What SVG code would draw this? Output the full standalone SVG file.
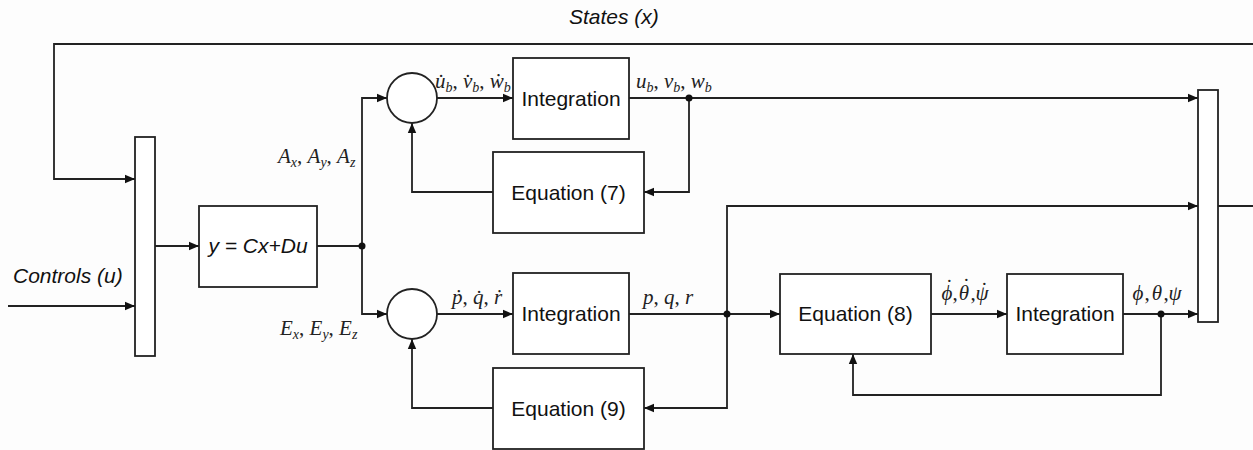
<svg xmlns="http://www.w3.org/2000/svg" width="1253" height="450" viewBox="0 0 1253 450">
  <style>
    .blk { fill: #fff; stroke: #222; stroke-width: 1.8; }
    .ln { fill: none; stroke: #222; stroke-width: 1.8; }
    .arr { marker-end: url(#ah); }
    .lbl { font-family: "Liberation Sans", Arial, sans-serif; font-size: 21px; fill: #111; }
    .it { font-style: italic; }
    .mth { font-family: "Liberation Serif", "DejaVu Serif", serif; font-size: 21px; font-style: italic; fill: #222; }
    .sub { font-size: 14px; }
    .up { font-style: normal; }
    .dot { fill: #111; }
  </style>
  <defs>
    <marker id="ah" viewBox="0 0 10 10" refX="10" refY="5" markerWidth="10" markerHeight="10" markerUnits="userSpaceOnUse" orient="auto">
      <path d="M0,0.8 L10,5 L0,9.2 Z" fill="#111"/>
    </marker>
  </defs>

  <rect width="1253" height="450" fill="#fdfdfd"/>

  <!-- connectors -->
  <g id="connectors">
    <!-- state feedback along the top -->
    <path class="ln arr" d="M1253,44 H54 V179 H135"/>
    <path class="ln" d="M1218,206 H1253"/>
    <!-- controls input -->
    <path class="ln arr" d="M8,306 H135"/>
    <!-- mux to output equation -->
    <path class="ln arr" d="M155,246 H199"/>
    <!-- output split to the two summers -->
    <path class="ln" d="M317,246 H362"/>
    <path class="ln arr" d="M362,246 V98 H387"/>
    <path class="ln arr" d="M362,246 V314 H387"/>
    <!-- translational loop -->
    <path class="ln arr" d="M437,98 H513"/>
    <path class="ln arr" d="M629,98 H1198"/>
    <path class="ln arr" d="M689,98 V192 H644"/>
    <path class="ln arr" d="M493,192 H412 V123"/>
    <!-- rotational loop -->
    <path class="ln arr" d="M437,314 H513"/>
    <path class="ln arr" d="M629,314 H780"/>
    <path class="ln arr" d="M727,314 V206 H1198"/>
    <path class="ln arr" d="M727,314 V408 H644"/>
    <path class="ln arr" d="M493,408 H412 V339"/>
    <!-- attitude chain -->
    <path class="ln arr" d="M931,314 H1007"/>
    <path class="ln arr" d="M1123,314 H1198"/>
    <path class="ln arr" d="M1161,314 V395 H853 V354"/>
    <!-- junction dots -->
    <circle class="dot" cx="362" cy="246" r="3.5"/>
    <circle class="dot" cx="689" cy="98" r="3.5"/>
    <circle class="dot" cx="727" cy="314" r="3.5"/>
    <circle class="dot" cx="1161" cy="314" r="3.5"/>
  </g>

  <!-- input multiplexer -->
  <g id="mux-in">
    <rect class="blk" x="135" y="137" width="20" height="219"/>
  </g>

  <!-- output equation -->
  <g id="output-eq">
    <rect class="blk" x="199" y="206" width="118" height="81"/>
    <text class="lbl it" x="258" y="253" text-anchor="middle">y = Cx+Du</text>
  </g>

  <!-- summing junctions -->
  <g id="sum-trans">
    <circle class="blk" cx="412" cy="98" r="25"/>
  </g>
  <g id="sum-rot">
    <circle class="blk" cx="412" cy="314" r="25"/>
  </g>

  <!-- integrators -->
  <g id="int-trans">
    <rect class="blk" x="513" y="58" width="116" height="81"/>
    <text class="lbl" x="571" y="106" text-anchor="middle">Integration</text>
  </g>
  <g id="int-rot">
    <rect class="blk" x="513" y="273" width="116" height="81"/>
    <text class="lbl" x="571" y="321" text-anchor="middle">Integration</text>
  </g>
  <g id="int-att">
    <rect class="blk" x="1007" y="274" width="116" height="80"/>
    <text class="lbl" x="1065" y="321" text-anchor="middle">Integration</text>
  </g>

  <!-- equation blocks -->
  <g id="eq7">
    <rect class="blk" x="493" y="152" width="151" height="81"/>
    <text class="lbl" x="568.5" y="200" text-anchor="middle">Equation (7)</text>
  </g>
  <g id="eq9">
    <rect class="blk" x="493" y="368" width="151" height="81"/>
    <text class="lbl" x="568.5" y="416" text-anchor="middle">Equation (9)</text>
  </g>
  <g id="eq8">
    <rect class="blk" x="780" y="274" width="151" height="80"/>
    <text class="lbl" x="855.5" y="321" text-anchor="middle">Equation (8)</text>
  </g>

  <!-- output multiplexer -->
  <g id="mux-out">
    <rect class="blk" x="1198" y="90" width="20" height="232"/>
  </g>

  <!-- signal labels -->
  <g id="labels">
    <text class="lbl it" x="569" y="24">States (x)</text>
    <text class="lbl it" x="13" y="283">Controls (u)</text>

    <text class="mth" x="278" y="163">A<tspan class="sub" dy="4">x</tspan><tspan class="up" dy="-4">, </tspan>A<tspan class="sub" dy="4">y</tspan><tspan class="up" dy="-4">, </tspan>A<tspan class="sub" dy="4">z</tspan></text>
    <text class="mth" x="280" y="335">E<tspan class="sub" dy="4">x</tspan><tspan class="up" dy="-4">, </tspan>E<tspan class="sub" dy="4">y</tspan><tspan class="up" dy="-4">, </tspan>E<tspan class="sub" dy="4">z</tspan></text>

    <text class="mth" x="435" y="88">u&#x307;<tspan class="sub" dy="4">b</tspan><tspan class="up" dy="-4">, </tspan>v&#x307;<tspan class="sub" dy="4">b</tspan><tspan class="up" dy="-4">, </tspan>w&#x307;<tspan class="sub" dy="4">b</tspan></text>
    <text class="mth" x="636" y="88">u<tspan class="sub" dy="4">b</tspan><tspan class="up" dy="-4">, </tspan>v<tspan class="sub" dy="4">b</tspan><tspan class="up" dy="-4">, </tspan>w<tspan class="sub" dy="4">b</tspan></text>

    <text class="mth" x="452" y="304">p&#x307;<tspan class="up">, </tspan>q&#x307;<tspan class="up">, </tspan>r&#x307;</text>
    <text class="mth" x="643" y="304">p<tspan class="up">, </tspan>q<tspan class="up">, </tspan>r</text>

    <!-- attitude rates: letters with separate dot accents -->
    <text class="mth" y="300" text-anchor="middle"><tspan x="947">&#x3D5;</tspan><tspan class="up" x="955">,</tspan><tspan x="964">&#x3B8;</tspan><tspan class="up" x="973">,</tspan><tspan x="982">&#x3C8;</tspan></text>
    <text class="mth" text-anchor="middle"><tspan x="948" y="294">&#x2D9;</tspan><tspan x="965" y="293">&#x2D9;</tspan><tspan x="983" y="297">&#x2D9;</tspan></text>
    <!-- attitude angles -->
    <text class="mth" y="300" text-anchor="middle"><tspan x="1138">&#x3D5;</tspan><tspan class="up" x="1147">,</tspan><tspan x="1157">&#x3B8;</tspan><tspan class="up" x="1166">,</tspan><tspan x="1175">&#x3C8;</tspan></text>
  </g>
</svg>
